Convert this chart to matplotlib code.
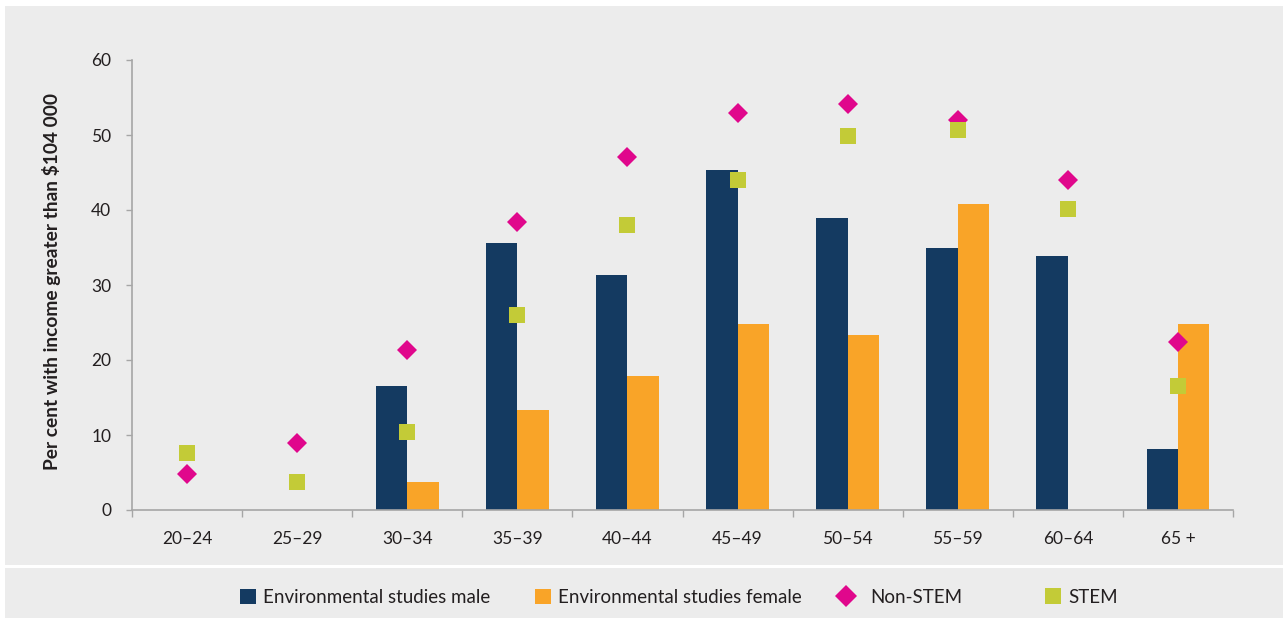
import matplotlib
matplotlib.use("Agg")
import matplotlib.pyplot as plt
from matplotlib.patches import Rectangle
from matplotlib.lines import Line2D
import numpy as np

plt.rcParams['font.family'] = ['Lato', 'DejaVu Sans']

categories = ["20–24", "25–29", "30–34", "35–39", "40–44", "45–49", "50–54", "55–59", "60–64", "65 +"]
env_male = [0, 0, 16.5, 35.6, 31.4, 45.3, 39.0, 34.9, 33.9, 8.2]
env_female = [0, 0, 3.7, 13.4, 17.9, 24.8, 23.4, 40.8, 0, 24.8]
non_stem = [4.8, 8.9, 21.4, 38.4, 47.1, 53.0, 54.1, 52.0, 44.0, 22.4]
stem = [7.6, 3.7, 10.4, 26.0, 38.0, 44.0, 49.9, 50.7, 40.2, 16.5]

c_male = "#143a61"
c_female = "#f9a428"
c_non = "#e0078c"
c_stem = "#c3cb37"
bg = "#ececec"
txt = "#231f20"
axc = "#a6a6a6"

W, H = 1288, 620
fig = plt.figure(figsize=(W / 100, H / 100), dpi=100)
fig.patch.set_facecolor("white")

# background panels
fig.patches.append(Rectangle((5 / W, 1 - 565 / H), 1278 / W, 559 / H, transform=fig.transFigure,
                             facecolor=bg, edgecolor="none", zorder=-10))
fig.patches.append(Rectangle((5 / W, 1 - 618 / H), 1278 / W, 50 / H, transform=fig.transFigure,
                             facecolor=bg, edgecolor="none", zorder=-10))

ax = fig.add_axes([132 / W, 1 - 510 / H, (1233 - 132) / W, 450 / H])
ax.set_facecolor("none")

x = np.arange(len(categories))
bw = 0.285
ax.bar(x - bw / 2, env_male, width=bw, color=c_male, zorder=2)
ax.bar(x + bw / 2, env_female, width=bw, color=c_female, zorder=2)
ax.plot(x, non_stem, linestyle="none", marker="D", markersize=10.2, color=c_non, markeredgewidth=0, zorder=3)
ax.plot(x, stem, linestyle="none", marker="s", markersize=11.5, color=c_stem, markeredgewidth=0, zorder=3)

ax.set_xlim(-0.5, len(categories) - 0.5)
ax.set_ylim(0, 60)
ax.set_yticks([0, 10, 20, 30, 40, 50, 60])
ax.set_xticks(x)
ax.set_xticklabels(categories)
ax.set_xticks(np.arange(-0.5, len(categories)), minor=True)
ax.tick_params(axis="x", which="major", length=0, pad=15, labelsize=12.5, labelcolor=txt)
ax.tick_params(axis="x", which="minor", length=5, width=1, color=axc, direction="out")
ax.tick_params(axis="y", length=4.5, width=1, color=axc, pad=10.5, labelsize=12.5, labelcolor=txt)

for s in ["top", "right"]:
    ax.spines[s].set_visible(False)
for s in ["left", "bottom"]:
    ax.spines[s].set_color(axc)
    ax.spines[s].set_linewidth(1.2)

fig.text(52 / W, 1 - 282 / H, "Per cent with income greater than $104 000", rotation=90,
         ha="center", va="center", fontsize=13.8, fontweight="bold", color=txt)

# legend entries placed individually: (handle, label, left px, handlelength, textpad)
fs = 13.5
handles = [
    (Rectangle((0, 0), 1, 1, facecolor=c_male, edgecolor="none"), "Environmental studies male", 240, 0.85, 0.37),
    (Rectangle((0, 0), 1, 1, facecolor=c_female, edgecolor="none"), "Environmental studies female", 535, 0.85, 0.37),
    (Line2D([], [], linestyle="none", marker="D", markersize=10.7, color=c_non, markeredgewidth=0), "Non-STEM", 835, 1.17, 0.7),
    (Line2D([], [], linestyle="none", marker="s", markersize=11.5, color=c_stem, markeredgewidth=0), "STEM", 1045, 0.85, 0.37),
]
for h, lab, px, hl, tp in handles:
    fig.legend([h], [lab], loc="center left", bbox_to_anchor=(px / W, 1 - 597.5 / H),
               frameon=False, fontsize=fs, handlelength=hl, handleheight=0.8,
               handletextpad=tp, borderpad=0, borderaxespad=0, labelcolor=txt)

fig.savefig("out.png", dpi=100, facecolor=fig.get_facecolor())
